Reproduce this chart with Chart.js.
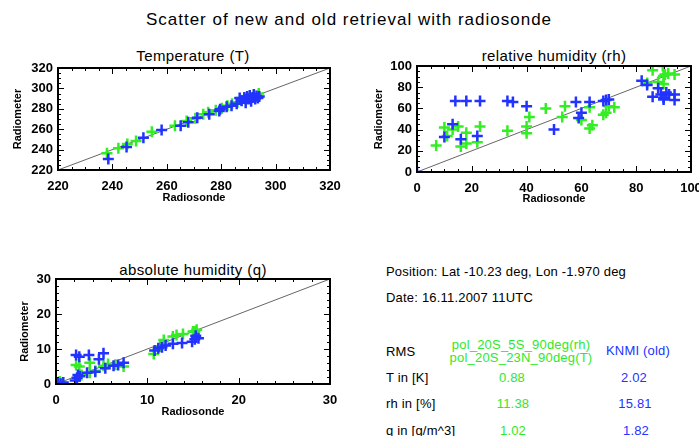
<!DOCTYPE html>
<html>
<head>
<meta charset="utf-8">
<script src="https://cdn.jsdelivr.net/npm/chart.js@4.4.1/dist/chart.umd.min.js"></script>
<style>
  body { margin: 0; width: 699px; height: 436px; overflow: hidden; background: #fff; position: relative; font-family: "Liberation Sans", Arial, sans-serif; }
  canvas { position: absolute; }
  .t { position: absolute; white-space: nowrap; color: #000; line-height: 1; }
  .c { transform: translate(-50%, -50%); }
  .l { transform: translateY(-50%); }
  .info { font-size: 13px; letter-spacing: 0.2px; }
  .green { color: #2fe82a; }
  .blue { color: #2233ff; }
</style>
</head>
<body>
<div class="t c" style="left:349px; top:19px; font-size:17px; letter-spacing:1px;">Scatter of new and old retrieval with radiosonde</div>
<div class="t c" style="left:193px; top:55px; font-size:15px; letter-spacing:0.4px;">Temperature (T)</div>
<div class="t c" style="left:554px; top:55px; font-size:15px; letter-spacing:0.4px;">relative humidity (rh)</div>
<div class="t c" style="left:193px; top:269px; font-size:15px; letter-spacing:0.4px;">absolute humidity (q)</div>

<canvas id="cT" width="360" height="160" style="left:0; top:50px;"></canvas>
<canvas id="cRH" width="370" height="161" style="left:360px; top:50px;"></canvas>
<canvas id="cQ" width="360" height="164" style="left:0; top:260px;"></canvas>

<div class="t l info" style="left:386px; top:271px;">Position: Lat -10.23 deg, Lon -1.970 deg</div>
<div class="t l info" style="left:386px; top:297px;">Date: 16.11.2007 11UTC</div>
<div class="t l info" style="left:386px; top:351px;">RMS</div>
<div class="t c info green" style="left:521px; top:344px;">pol_20S_5S_90deg(rh)</div>
<div class="t c info green" style="left:521px; top:357px;">pol_20S_23N_90deg(T)</div>
<div class="t c info blue" style="left:638px; top:350px;">KNMI (old)</div>
<div class="t l info" style="left:386px; top:377px;">T in [K]</div>
<div class="t c info green" style="left:512px; top:377px;">0.88</div>
<div class="t c info blue" style="left:634px; top:377px;">2.02</div>
<div class="t l info" style="left:386px; top:403px;">rh in [%]</div>
<div class="t c info green" style="left:513px; top:403px;">11.38</div>
<div class="t c info blue" style="left:635px; top:403px;">15.81</div>
<div class="t l info" style="left:386px; top:430px;">q in [g/m^3]</div>
<div class="t c info green" style="left:513px; top:430px;">1.02</div>
<div class="t c info blue" style="left:636px; top:430px;">1.82</div>

<script>
// axis ranges
const tRange = [220, 320];
const rhRange = [0, 100];
const qRange = [0, 30];

// temperature: new retrieval (green) and KNMI old (blue)
const tNewX = [238, 242.2, 245.5, 248.7, 254.5, 263, 267.3, 270.5, 273.4, 275.2, 278, 280.2, 282.3, 284, 286, 287.5, 289, 290.5, 292, 293.8];
const tNewY = [236.5, 241.3, 245.5, 248.4, 257.5, 263.4, 268, 270.8, 274.6, 276.5, 278.6, 280.5, 283, 285, 286.5, 288.5, 289.5, 291.5, 293, 295];
const tOldX = [238.5, 245.2, 251.4, 258.1, 265.1, 267.9, 271.2, 275.6, 279.3, 279.6, 282, 283.8, 285.7, 286.8, 287.5, 288.5, 289, 289.5, 290, 290.5, 291, 291.5, 292, 292.5, 293, 293.5, 294];
const tOldY = [230.8, 242.5, 251.7, 259.2, 263.4, 266.7, 271.3, 274.6, 277.8, 279.6, 282, 283, 285, 290.5, 288, 291, 286, 292, 289.5, 293, 287.5, 291, 294, 289.5, 292.5, 290.5, 292];

// relative humidity
const rhNewX = [7, 10, 11, 13, 15, 16, 18, 18, 22, 23, 33, 40, 40, 41, 47, 53, 54, 60, 63, 63, 64, 68, 69, 70, 72, 84, 86, 88, 90, 90, 90.5, 91.7, 94, 89.7];
const rhNewY = [25, 42, 34, 40, 43, 24, 37, 27, 28, 43, 39, 43, 36.5, 52, 60, 52, 62, 49, 61, 41, 44, 54, 56, 62, 61, 84, 96, 85, 83, 90.5, 92, 93, 92, 100];
const rhOldX = [0, 10, 13, 14, 16, 18, 22, 23, 33, 35, 40, 50, 58, 59, 60, 63, 68, 69, 70, 82, 84, 86, 88, 89, 90, 90, 91, 92, 94, 94];
const rhOldY = [0, 33, 45, 67, 31, 67, 34, 67, 67, 66, 62, 40, 66, 51, 56, 66, 67, 68, 68.5, 86, 82, 71, 79, 73, 70, 68.5, 75, 73, 73, 68];

// absolute humidity
const qNewX = [0.4, 0.7, 2.2, 2.55, 2.8, 3.7, 3.7, 4.3, 5.2, 5.7, 6.5, 7.4, 10.7, 11.4, 11.8, 12.8, 13.2, 13.9, 15, 15.4, 15.2];
const qNewY = [0.7, 0.3, 5.4, 5, 2.6, 3.2, 6.1, 3.8, 5.2, 5.7, 5.5, 5, 8.6, 10.7, 12.6, 13.6, 14, 14.3, 15, 15.5, 15];
const qOldX = [0.2, 0.5, 0.8, 2.1, 2.3, 2.4, 2.6, 2.2, 2.55, 3.6, 4.7, 5.2, 3.4, 4.3, 5.4, 6.3, 6.8, 7.4, 10.8, 11.2, 11.6, 12, 12.8, 13.8, 14.9, 15.2, 15.6, 15.3];
const qOldY = [0.2, 0.1, 0.4, 1.0, 1.8, 2.6, 2.2, 8.3, 7.8, 8.3, 7.1, 8.8, 3.2, 3.5, 4.5, 5.2, 5.4, 6.1, 9.6, 10.2, 10.5, 11, 11.5, 11.7, 12.1, 12.8, 13.1, 13.8];

const GREEN = '#33ee22';
const BLUE = '#2233ff';
const FONT = 'Liberation Sans';

function pts(xs, ys) {
    return xs.map((x, i) => ({ x: x, y: ys[i] }));
}

// IDL style frame: box with inward major/minor ticks on all four sides
const idlFrame = {
    id: 'idlFrame',
    afterDraw(chart, args, opts) {
        const ctx = chart.ctx;
        const a = chart.chartArea;
        const xs = chart.scales.x, ys = chart.scales.y;
        ctx.save();
        ctx.strokeStyle = '#000';
        ctx.lineWidth = 1;
        ctx.beginPath();
        for (let v = xs.min; v <= xs.max + 1e-9; v += opts.minor) {
            const px = Math.round(xs.getPixelForValue(v)) + 0.5;
            const major = Math.abs((v - xs.min) / opts.major - Math.round((v - xs.min) / opts.major)) < 1e-6;
            const len = major ? 6 : 3;
            ctx.moveTo(px, a.bottom); ctx.lineTo(px, a.bottom - len);
            ctx.moveTo(px, a.top); ctx.lineTo(px, a.top + len);
        }
        for (let v = ys.min; v <= ys.max + 1e-9; v += opts.minor) {
            const py = Math.round(ys.getPixelForValue(v)) + 0.5;
            const major = Math.abs((v - ys.min) / opts.major - Math.round((v - ys.min) / opts.major)) < 1e-6;
            const len = major ? 6 : 3;
            ctx.moveTo(a.left, py); ctx.lineTo(a.left + len, py);
            ctx.moveTo(a.right, py); ctx.lineTo(a.right - len, py);
        }
        ctx.stroke();
        ctx.lineWidth = 2;
        ctx.strokeRect(a.left, a.top, a.right - a.left, a.bottom - a.top);
        ctx.restore();
    }
};

function makeChart(id, range, newX, newY, oldX, oldY, geo) {
    const ctx = document.getElementById(id).getContext('2d');
    return new Chart(ctx, {
        type: 'scatter',
        data: {
            datasets: [{
                data: pts(oldX, oldY),
                borderColor: BLUE,
                backgroundColor: BLUE,
                pointStyle: 'cross',
                pointRadius: 5.5,
                borderWidth: 2.5,
                clip: 0,
                order: 0
            }, {
                data: pts(newX, newY),
                borderColor: GREEN,
                backgroundColor: GREEN,
                pointStyle: 'cross',
                pointRadius: 5.5,
                borderWidth: 2.5,
                clip: 0,
                order: 1
            }, {
                type: 'line',
                data: pts(range, range),
                borderColor: '#666',
                borderWidth: 1,
                pointRadius: 0,
                order: 2
            }]
        },
        options: {
            responsive: false,
            animation: false,
            devicePixelRatio: 1,
            layout: { padding: geo.padding },
            plugins: {
                legend: { display: false },
                tooltip: { enabled: false },
                idlFrame: { major: geo.major, minor: geo.minor }
            },
            scales: {
                x: {
                    type: 'linear',
                    min: range[0], max: range[1],
                    grid: { display: false, drawTicks: false },
                    border: { display: false },
                    ticks: { stepSize: geo.major, color: '#000', padding: 9, maxRotation: 0,
                             font: { family: FONT, weight: 'bold', size: 13 } },
                    title: { display: true, text: 'Radiosonde', color: '#000',
                             padding: { top: 0, bottom: 0 },
                             font: { family: FONT, weight: 'bold', size: 11 } },
                    afterFit: s => { s.height = geo.xh; }
                },
                y: {
                    type: 'linear',
                    min: range[0], max: range[1],
                    grid: { display: false, drawTicks: false },
                    border: { display: false },
                    ticks: { stepSize: geo.major, color: '#000', padding: 5,
                             font: { family: FONT, weight: 'bold', size: 13 } },
                    title: { display: true, text: 'Radiometer', color: '#000',
                             padding: { top: geo.ytp, bottom: 0 },
                             font: { family: FONT, weight: 'bold', size: 11 } },
                    afterFit: s => { s.width = geo.yw; }
                }
            }
        },
        plugins: [idlFrame]
    });
}

makeChart('cT', tRange, tNewX, tNewY, tOldX, tOldY,
    { padding: { left: 0, right: 30, top: 18, bottom: 5 }, xh: 35, yw: 58, ytp: 11, major: 20, minor: 5 });
makeChart('cRH', rhRange, rhNewX, rhNewY, rhOldX, rhOldY,
    { padding: { left: 0, right: 39, top: 16, bottom: 5 }, xh: 34, yw: 57, ytp: 12, major: 20, minor: 5 });
makeChart('cQ', qRange, qNewX, qNewY, qOldX, qOldY,
    { padding: { left: 0, right: 30, top: 19, bottom: 5 }, xh: 35, yw: 56, ytp: 18, major: 10, minor: 2 });
</script>
</body>
</html>
